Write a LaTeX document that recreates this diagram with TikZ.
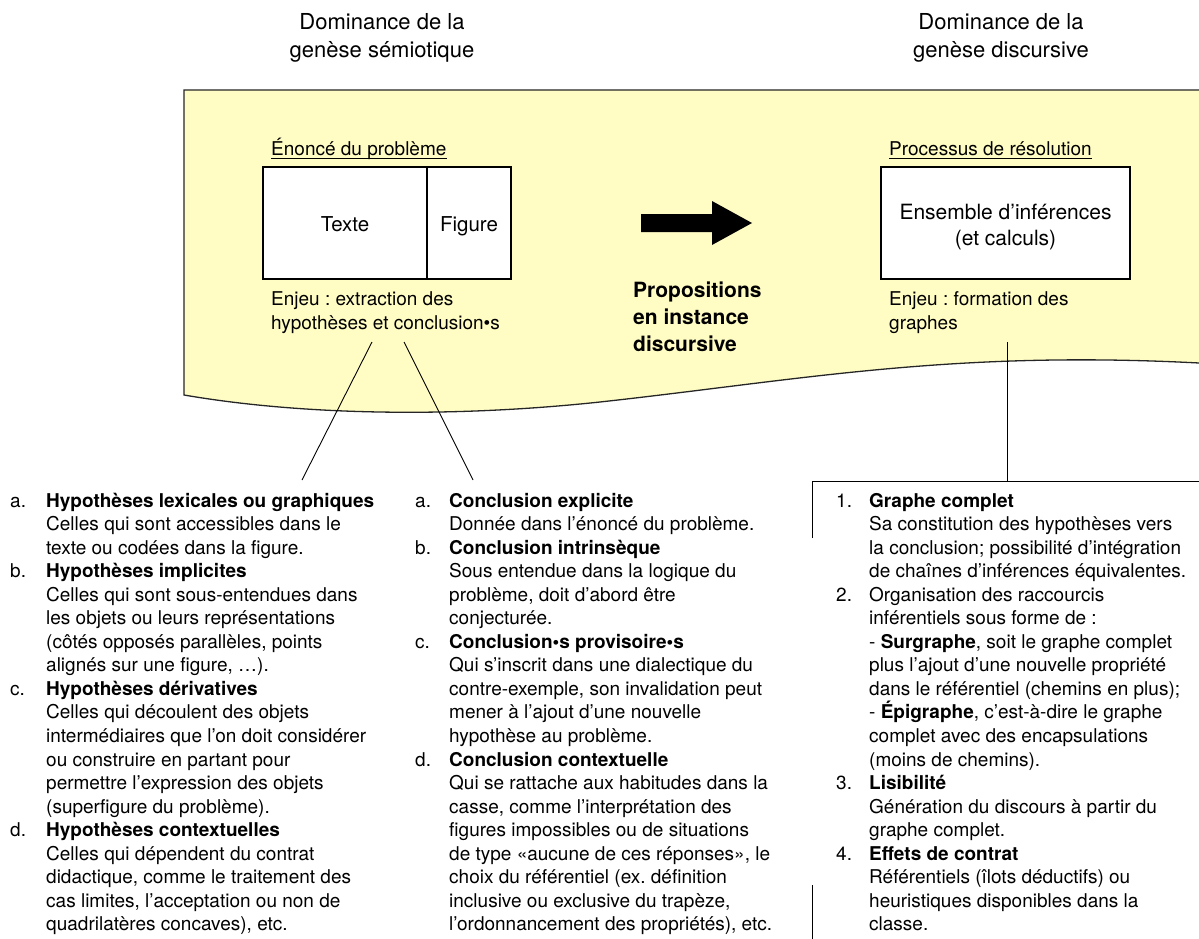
\documentclass[tikz,border=0pt]{standalone}
\usepackage{fontspec}
\setmainfont{TeX Gyre Heros}
\frenchspacing
\newlength\Lind
\newcommand\Litem[2]{\makebox[\Lind][l]{#1}\textbf{#2}}
\newcommand\Lplain[2]{\makebox[\Lind][l]{#1}#2}
\newcommand\Lcont{\hspace*{\Lind}}
\definecolor{paleyellow}{RGB}{255,253,196}
\begin{document}
\begin{tikzpicture}[x=1pt,y=-1pt,
  txt/.style={inner sep=0pt, anchor=base west},
  ctr/.style={inner sep=0pt, anchor=base},
  boxnode/.style={draw=black, line width=1.1pt, fill=white, inner sep=0pt, minimum height=112pt},
  link/.style={draw=black, line width=0.9pt},
  edge/.style={draw=black!85, line width=1.3pt}]
\useasboundingbox (0,0) rectangle (1199,939);
% yellow band
\fill[paleyellow] (184,90) -- (184,395) .. controls (300,415) and (450,418) .. (600,402) .. controls (800,380) and (950,350) .. (1199,363) -- (1199,90) -- cycle;
\draw[edge] (1199,90) -- (184,90) -- (184,395) .. controls (300,415) and (450,418) .. (600,402) .. controls (800,380) and (950,350) .. (1199,363);
% headers
\node[ctr] (hL) at (382,30) {\parbox[t]{300pt}{\centering\fontsize{22}{28}\selectfont Dominance de la\\genèse sémiotique}};
\node[ctr] (hR) at (1001,30) {\parbox[t]{300pt}{\centering\fontsize{22}{28}\selectfont Dominance de la\\genèse discursive}};
% left block
\node[txt, font=\fontsize{19}{23}\selectfont] (tL) at (271,155) {Énoncé du problème};
\draw[line width=0.9pt] ([yshift=-3.5pt]tL.base west) -- ([yshift=-3.5pt]tL.base east);
\node[boxnode, minimum width=164pt, text height=17pt, text depth=0pt] (texte) at (345,223) {\fontsize{20.5}{24}\selectfont Texte};
\node[boxnode, minimum width=84pt, text height=17pt, text depth=0pt] (figure) at (469,223) {\fontsize{20.5}{24}\selectfont Figure};
\node[txt] (enjL) at (271,305) {\parbox[t]{300pt}{\fontsize{19}{24}\selectfont Enjeu : extraction des\\hypothèses et conclusion•s}};
% arrow
\fill[black] (641,214) -- (712,214) -- (712,201) -- (752,223) -- (712,245) -- (712,232) -- (641,232) -- cycle;
\node[txt] (prop) at (633,297) {\parbox[t]{200pt}{\fontsize{21}{27}\selectfont\bfseries Propositions\\en instance\\discursive}};
% right block
\node[txt, font=\fontsize{19}{23}\selectfont] (tR) at (889,155) {Processus de résolution};
\draw[line width=0.9pt] ([yshift=-3.5pt]tR.base west) -- ([yshift=-3.5pt]tR.base east);
\node[boxnode, minimum width=249pt] (ens) at (1005.5,223) {};
\node[ctr] (ensT) at (1005.5,219) {\parbox[t]{249pt}{\centering\fontsize{21}{26}\selectfont Ensemble d’inférences\\(et calculs)}};
\node[txt] (enjR) at (889,305) {\parbox[t]{300pt}{\fontsize{19}{24}\selectfont Enjeu : formation des\\graphes}};
% connectors
\coordinate (e1) at (372,342);
\coordinate (e2) at (404,342);
\coordinate (c1) at (302,480);
\coordinate (c2) at (473,480);
\draw[link] (e1) -- (c1);
\draw[link] (e2) -- (c2);
\coordinate (e3) at (1007,342);
\coordinate (r1) at (1007,481);
\coordinate (rl) at (812,481);
\coordinate (rr) at (1199,481);
\coordinate (rb) at (812,538);
\coordinate (rc1) at (812,885);
\coordinate (rc2) at (812,939);
\draw[link] (e3) -- (r1);
\draw[link] (rb) -- (rl) -- (rr);
\draw[link] (rc1) -- (rc2);
% columns
\node[txt] (colA) at (10,507) {\parbox[t]{400pt}{\setlength\Lind{36pt}\fontsize{19}{23.55}\selectfont
\Litem{a.}{Hypothèses lexicales ou graphiques}\\
\Lcont Celles qui sont accessibles dans le\\
\Lcont texte ou codées dans la figure.\\
\Litem{b.}{Hypothèses implicites}\\
\Lcont Celles qui sont sous-entendues dans\\
\Lcont les objets ou leurs représentations\\
\Lcont (côtés opposés parallèles, points\\
\Lcont alignés sur une figure, …).\\
\Litem{c.}{Hypothèses dérivatives}\\
\Lcont Celles qui découlent des objets\\
\Lcont intermédiaires que l’on doit considérer\\
\Lcont ou construire en partant pour\\
\Lcont permettre l’expression des objets\\
\Lcont (superfigure du problème).\\
\Litem{d.}{Hypothèses contextuelles}\\
\Lcont Celles qui dépendent du contrat\\
\Lcont didactique, comme le traitement des\\
\Lcont cas limites, l’acceptation ou non de\\
\Lcont quadrilatères concaves), etc.}};
\node[txt] (colB) at (415,507) {\parbox[t]{400pt}{\setlength\Lind{34pt}\fontsize{19}{23.55}\selectfont
\Litem{a.}{Conclusion explicite}\\
\Lcont Donnée dans l’énoncé du problème.\\
\Litem{b.}{Conclusion intrinsèque}\\
\Lcont Sous entendue dans la logique du\\
\Lcont problème, doit d’abord être\\
\Lcont conjecturée.\\
\Litem{c.}{Conclusion•s provisoire•s}\\
\Lcont Qui s’inscrit dans une dialectique du\\
\Lcont contre-exemple, son invalidation peut\\
\Lcont mener à l’ajout d’une nouvelle\\
\Lcont hypothèse au problème.\\
\Litem{d.}{Conclusion contextuelle}\\
\Lcont Qui se rattache aux habitudes dans la\\
\Lcont casse, comme l’interprétation des\\
\Lcont figures impossibles ou de situations\\
\Lcont de type «aucune de ces réponses», le\\
\Lcont choix du référentiel (ex. définition\\
\Lcont inclusive ou exclusive du trapèze,\\
\Lcont l’ordonnancement des propriétés), etc.}};
\node[txt] (colC) at (836,507) {\parbox[t]{400pt}{\setlength\Lind{33pt}\fontsize{19}{23.55}\selectfont
\Litem{1.}{Graphe complet}\\
\Lcont Sa constitution des hypothèses vers\\
\Lcont la conclusion; possibilité d’intégration\\
\Lcont de chaînes d’inférences équivalentes.\\
\Lplain{2.}{Organisation des raccourcis}\\
\Lcont inférentiels sous forme de :\\
\Lcont - \textbf{Surgraphe}, soit le graphe complet\\
\Lcont plus l’ajout d’une nouvelle propriété\\
\Lcont dans le référentiel (chemins en plus);\\
\Lcont - \textbf{Épigraphe}, c’est-à-dire le graphe\\
\Lcont complet avec des encapsulations\\
\Lcont (moins de chemins).\\
\Litem{3.}{Lisibilité}\\
\Lcont Génération du discours à partir du\\
\Lcont graphe complet.\\
\Litem{4.}{Effets de contrat}\\
\Lcont Référentiels (îlots déductifs) ou\\
\Lcont heuristiques disponibles dans la\\
\Lcont classe.}};
\end{tikzpicture}
\end{document}
